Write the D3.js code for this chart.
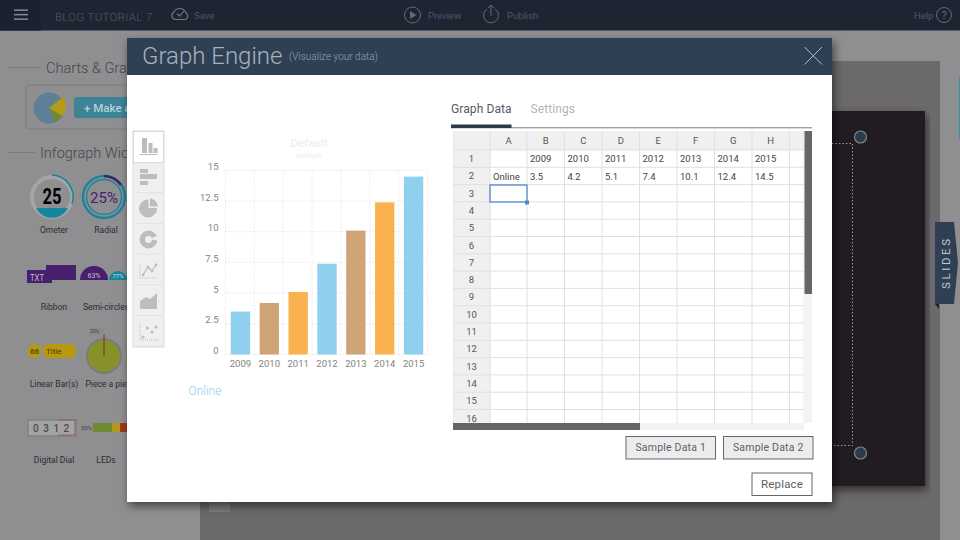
<!DOCTYPE html>
<html><head><meta charset="utf-8">
<script src="https://cdn.jsdelivr.net/npm/d3@7/dist/d3.min.js"></script>
<style>
html,body{margin:0;padding:0;background:#8f8e90;overflow:hidden}
svg{display:block}
text{font-family:Roboto,"Liberation Sans",sans-serif}
</style></head><body>
<svg id="c" width="960" height="540"></svg>
<script>
const categories=["2009","2010","2011","2012","2013","2014","2015"];
const seriesName="Online";
const values=[3.5,4.2,5.1,7.4,10.1,12.4,14.5];
const yTicks=[0,2.5,5,7.5,10,12.5,15];
const barColors=["#8fd0ef","#cfa478","#fab24f"];
const colLetters=["A","B","C","D","E","F","G","H"];
const rowNumbers=d3.range(1,17);
const colEdges=[490,527,564.5,602,639.5,677,714.5,752,789.5,804];
const widgetRows=[["Ometer","Radial"],["Ribbon","Semi-circles"],["Linear Bar(s)","Piece a pie"],["Digital Dial","LEDs"]];

const svg=d3.select("#c");
const rect=(p,x,y,w,h,fill,extra={})=>{const r=p.append("rect").attr("x",x).attr("y",y).attr("width",w).attr("height",h).attr("fill",fill);for(const k in extra)r.attr(k,extra[k]);return r;};
const text=(p,x,y,s,size,fill,extra={})=>{const t=p.append("text").attr("x",x).attr("y",y).text(s).attr("font-size",size).attr("fill",fill);for(const k in extra)t.attr(k,extra[k]);return t;};
const defs=svg.append("defs");
const f=defs.append("filter").attr("id","sh").attr("x","-5%").attr("y","-5%").attr("width","110%").attr("height","110%");
f.append("feDropShadow").attr("dx",2).attr("dy",4).attr("stdDeviation",5).attr("flood-color","#000").attr("flood-opacity",.55);

/* backdrop */
const bg=svg.append("g");
rect(bg,0,0,960,540,"#8f8e90");
rect(bg,200,61,740,479,"#6b696b");
rect(bg,825,111,100,375,"#201e21",{filter:"url(#sh)"});
bg.append("path").attr("d","M832 143.5H852.5V445.5H832").attr("fill","none").attr("stroke","#9c9c9c").attr("stroke-dasharray","1.5 2");
[[860.5,137],[860.5,453]].forEach(c=>bg.append("circle").attr("cx",c[0]).attr("cy",c[1]).attr("r",6).attr("fill","#2c3a4a").attr("stroke","#7d858c").attr("stroke-width",1.2));
rect(bg,209,495,21,17,"#7d7b7d");
/* slides tab */
bg.append("path").attr("d","M935 222H954L958 263L954 304H935Z").attr("fill","#2f4054");
bg.append("path").attr("d","M935 304H939V309Z").attr("fill","#222");
text(bg,0,0,"SLIDES",11.5,"#c0c6cc",{transform:"translate(950,289) rotate(-90)","letter-spacing":2.6});
rect(bg,959,77,1,62,"#2a93a8");

/* left panel */
const lp=svg.append("g");
const hdr=(t,x,y,lx1,lx2,s)=>{lp.append("line").attr("x1",lx1).attr("x2",lx2).attr("y1",y-5.5).attr("y2",y-5.5).attr("stroke","#7a7a7c");text(lp,x,y,t,s,"#47474a",{"font-weight":300});};
hdr("Charts & Graphs",46,73,9,40,14.5);
hdr("Infograph Widgets",40,158,9,35,14.5);
rect(lp,26,85,110,44,"none",{stroke:"#7d7d7f",rx:3});
lp.append("circle").attr("cx",49).attr("cy",108).attr("r",15.5).attr("fill","#5e7f96");
lp.append("path").attr("d","M49 108L63 97A15.5 15.5 0 0 1 62 116Z").attr("fill","#b49a15");
lp.append("path").attr("d","M49 108L62 116A15.5 15.5 0 0 1 55 122Z").attr("fill","#6f8a32");
rect(lp,74,97,60,21,"#3d8496",{rx:3});
text(lp,84,112,"+ Make a",11.5,"#b8d0d6",{"font-weight":500});
/* ometer */
lp.append("circle").attr("cx",52).attr("cy",197).attr("r",20).attr("fill","#8f8e90").attr("stroke","#a5a4a6").attr("stroke-width",4);
lp.append("path").attr("d","M36 208H68A18 18 0 0 1 36 208Z").attr("fill","#15869b");
lp.append("path").attr("d","M52 175A22 22 0 0 1 72 204").attr("fill","none").attr("stroke","#15869b").attr("stroke-width",1.5);
text(lp,52,204,"25",22,"#000",{"text-anchor":"middle","font-weight":700,textLength:19,lengthAdjust:"spacingAndGlyphs"});
/* radial */
lp.append("circle").attr("cx",104).attr("cy",197).attr("r",21).attr("fill","none").attr("stroke","#15869b").attr("stroke-width",2.4);
lp.append("circle").attr("cx",104).attr("cy",197).attr("r",17.5).attr("fill","none").attr("stroke","#15869b").attr("stroke-width",1.4);
lp.append("path").attr("d","M104 176A21 21 0 0 1 121 185").attr("fill","none").attr("stroke","#47206c").attr("stroke-width",2.6);
text(lp,104,203,"25%",15,"#47206c",{"text-anchor":"middle","font-weight":400});
/* ribbon and semi circles */
rect(lp,27,270,25,13,"#47206c");rect(lp,46,265,30,15,"#47206c");
text(lp,30,281,"TXT",9.5,"#c0b6cc",{textLength:14,lengthAdjust:"spacingAndGlyphs"});
lp.append("path").attr("d","M80 280A14 14 0 0 1 108 280Z").attr("fill","#47206c");
lp.append("path").attr("d","M109 280A9 9 0 0 1 127 280Z").attr("fill","#15869b");
text(lp,94,278,"63%",7,"#c8c0d0",{"text-anchor":"middle"});
text(lp,118,278,"77%",6,"#c8e0e5",{"text-anchor":"middle"});
/* linear bar */
lp.append("circle").attr("cx",34.5).attr("cy",351).attr("r",7).attr("fill","#b8980f");
text(lp,34.5,354,"68",8,"#4a4210",{"text-anchor":"middle","font-weight":500});
rect(lp,43,344,33,14,"#b8980f",{rx:6});
text(lp,46,354,"Title",8,"#4a4210",{"font-weight":400});
/* pie */
lp.append("circle").attr("cx",104).attr("cy",356).attr("r",17).attr("fill","#87912a").attr("stroke","#7b7b7d").attr("stroke-width",2);
lp.append("line").attr("x1",104).attr("x2",104).attr("y1",334).attr("y2",356).attr("stroke","#7a3020");
rect(lp,89,328,15,7,"#8a898b");
text(lp,90,333,"25%",5,"#444");
/* dial */
rect(lp,28,420,48,16,"#a3a2a4",{stroke:"#777"});
lp.append("path").attr("d","M58 420H75V435H58").attr("fill","none").attr("stroke","#9a4038").attr("stroke-dasharray","1.5 1");
["0","3","1","2"].forEach((d,i)=>text(lp,33+i*10.2,432,d,10,"#4a4a4c",{"font-weight":500}));
/* LEDs */
text(lp,81,430,"55%",6,"#444");
rect(lp,93,423,19,9,"#6f8a32");rect(lp,112,423,8,9,"#b09a22");rect(lp,120,423,7,9,"#a03a1c");
const labY=[233,310,387,463],labX=[54,106];
widgetRows.forEach((r,i)=>r.forEach((s,j)=>text(lp,labX[j],labY[i],s,8.5,"#2d2d30",{"text-anchor":"middle"})));

/* top bar */
const topBar=svg.append("g");
rect(topBar,0,0,960,30.5,"#1e2432");
rect(topBar,0,0,41,30.5,"#1b2130");
[10,14.5,19].forEach(y=>rect(topBar,14,y-.6,14,1.5,"#858b94"));
const tc="#4e5665";
text(topBar,55,21,"BLOG TUTORIAL 7",11.5,"#525a68",{"font-weight":300,"letter-spacing":.3});
topBar.append("path").attr("d","M176 19.5H185A3.5 3.5 0 0 0 186 13A6.5 6.5 0 0 0 174 12A4 4 0 0 0 176 19.5ZM177 13.5L179.5 16L184 11").attr("fill","none").attr("stroke","#727986").attr("stroke-width",1.1);
text(topBar,194,18.5,"Save",9.5,tc);
topBar.append("circle").attr("cx",412.5).attr("cy",15).attr("r",8).attr("fill","none").attr("stroke","#626a78");
topBar.append("path").attr("d","M410 11V19L416.5 15Z").attr("fill","#626a78");
text(topBar,428,19,"Preview",9.5,tc);
topBar.append("path").attr("d","M487 9A7.5 7.5 0 1 0 495 9M491 16V5M488 8L491 5L494 8").attr("fill","none").attr("stroke","#626a78");
text(topBar,507,19,"Publish",9.5,tc);
text(topBar,914,18.5,"Help",9.5,tc);
topBar.append("circle").attr("cx",944).attr("cy",15).attr("r",7.5).attr("fill","none").attr("stroke","#626a78");
text(topBar,944,19,"?",11,"#626a78",{"text-anchor":"middle"});

/* modal */
const m=svg.append("g");
rect(m,127,38,705,464,"#fff",{filter:"url(#sh)"});
rect(m,127,38,705,37,"#2f4054");
text(m,142,64,"Graph Engine",24,"#a8b2bd",{"font-weight":300});
text(m,289,60,"(Visualize your data)",10,"#98a3af",{"font-weight":300});
m.append("path").attr("d","M804.5 47L822 64.5M822 47L804.5 64.5").attr("stroke","#b6bec6").attr("stroke-width",1);

/* chart type rail */
const rail=m.append("g");
rect(rail,133,131,31,216,"#efeff0",{stroke:"#dcdcde"});
rect(rail,133.5,131.5,30,31,"#fff",{stroke:"#d8d8da"});
d3.range(1,7).forEach(i=>rail.append("line").attr("x1",134).attr("x2",163).attr("y1",162+i*30.7).attr("y2",162+i*30.7).attr("stroke","#e2e2e4"));
const gi="#bdbdbf";
rect(rail,142,138,5,15,gi);rect(rail,148.5,143,4,10,gi);rect(rail,153.5,148,4,5,gi);rect(rail,139.5,154,18,1,gi);
rect(rail,140,169,8,4,gi);rect(rail,140,174,17,5,gi);rect(rail,140,181,8,4,gi);
rail.append("path").attr("d","M148.5 199.5V208H157A9 9 0 1 1 148.5 199.5ZM150 198.5A9 9 0 0 1 158 206.5H150Z").attr("fill",gi);
rail.append("circle").attr("cx",148.5).attr("cy",239.5).attr("r",6.2).attr("fill","none").attr("stroke",gi).attr("stroke-width",5.5);
rail.append("path").attr("d","M149 239L160 235V241Z").attr("fill","#efeff0");
rail.append("path").attr("d","M140 264V278H158").attr("fill","none").attr("stroke",gi).attr("stroke-dasharray","1 1");
rail.append("path").attr("d","M143 275L148 267L152 271L156 265").attr("fill","none").attr("stroke",gi).attr("stroke-width",1.3);
[[143,275],[148,267],[152,271],[156,265]].forEach(p=>rail.append("circle").attr("cx",p[0]).attr("cy",p[1]).attr("r",1.4).attr("fill",gi));
rail.append("path").attr("d","M140 309V301L146 297L150 299L157 293V309Z").attr("fill",gi);
rail.append("path").attr("d","M140 323V340H158").attr("fill","none").attr("stroke",gi).attr("stroke-dasharray","1 1");
[[143,337],[147.5,328],[152,332],[156,327]].forEach(p=>rail.append("circle").attr("cx",p[0]).attr("cy",p[1]).attr("r",1.6).attr("fill",gi));

/* chart */
const x=d3.scaleBand().domain(categories).range([226,428]).paddingInner(.33).paddingOuter(.165);
const y=d3.scaleLinear().domain([0,15]).range([354.5,170.5]);
const ch=m.append("g");
const dotC="#dedee2",dotD="1 2";
ch.selectAll("line.h").data(yTicks).join("line").attr("class","h").attr("x1",225.5).attr("x2",427).attr("y1",d=>y(d)).attr("y2",d=>y(d)).attr("stroke",dotC).attr("stroke-dasharray",dotD);
const stepW=(428-226)/categories.length;
ch.selectAll("line.v").data(d3.range(0,8)).join("line").attr("class","v").attr("x1",d=>225.5+d*stepW).attr("x2",d=>225.5+d*stepW).attr("y1",170.5).attr("y2",354.5).attr("stroke",dotC).attr("stroke-dasharray",dotD);
ch.selectAll("rect.bar").data(values).join("rect").attr("class","bar").attr("x",(d,i)=>x(categories[i])).attr("width",x.bandwidth()).attr("y",d=>y(d)).attr("height",d=>y(0)-y(d)).attr("fill",(d,i)=>barColors[i%3]);
const ay=d3.axisLeft(y).tickValues(yTicks).tickSize(0).tickPadding(7).tickFormat(d=>String(d));
const gy=ch.append("g").attr("transform","translate(225.5,-4)").call(ay);
gy.select(".domain").remove();
gy.selectAll("text").attr("font-size",9.5).attr("fill","#828284").attr("font-family","Liberation Sans");
const ax=d3.axisBottom(x).tickSize(0).tickPadding(6);
const gx=ch.append("g").attr("transform","translate(0,354.5)").call(ax);
gx.select(".domain").remove();
gx.selectAll("text").attr("font-size",9.5).attr("fill","#828284").attr("font-family","Liberation Sans");
text(ch,309,147,"Default",11.5,"#f1f1f4",{"text-anchor":"middle","font-weight":700,"font-family":"Liberation Sans"});
text(ch,309,158,"Default",8,"#f3f3f5",{"text-anchor":"middle","font-weight":700,"font-family":"Liberation Sans"});
text(ch,188.5,395,seriesName,12,"#8fd0ef",{"font-weight":300});

/* tabs */
text(m,451,113,"Graph Data",12,"#555a60",{"letter-spacing":.1});
text(m,530.5,113,"Settings",12,"#b5b5b8",{"letter-spacing":.1});
rect(m,451,127,361,1.4,"#a3a3a6");
rect(m,451,124.5,60.5,3.5,"#2c3a4c");

/* spreadsheet */
const sh=m.append("g");
const colX=colEdges, rowY=d3.range(0,18).map(i=>150+i*17.3);
const top0=131,bot=423,left=453,right=804;
const clip=defs.append("clipPath").attr("id","sc");clip.append("rect").attr("x",left).attr("y",top0).attr("width",right-left).attr("height",bot-top0);
const grid=sh.append("g").attr("clip-path","url(#sc)");
rect(grid,left,top0,right-left,19,"#f0f0f1");
rect(grid,left,top0,37,bot-top0,"#f0f0f1");
const gc="#e0e0e3";
rowY.forEach(v=>grid.append("line").attr("x1",left).attr("x2",right).attr("y1",v).attr("y2",v).attr("stroke",gc));
colX.concat([left]).forEach(v=>grid.append("line").attr("x1",v).attr("x2",v).attr("y1",top0).attr("y2",bot).attr("stroke",gc));
const tf={"font-family":"Liberation Sans"};
colLetters.forEach((c,i)=>text(grid,(colX[i]+colX[i+1])/2,144,c,9.5,"#555",{"text-anchor":"middle",...tf}));
rowNumbers.forEach((r,i)=>text(grid,471.5,rowY[i]+12,r,9.5,"#555",{"text-anchor":"middle",...tf}));
categories.forEach((c,i)=>text(grid,colX[i+1]+3,162,c,9.5,"#444",tf));
text(grid,493,179.5,seriesName,9.5,"#444",tf);
values.forEach((v,i)=>text(grid,colX[i+1]+3,179.5,v,9.5,"#444",tf));
rect(sh,490,185,37,17,"none",{stroke:"#4f8ad0","stroke-width":1.3});
rect(sh,525,200.5,4,4,"#4f8ad0");
/* scrollbars */
rect(sh,453,423,351,7,"#f3f3f4");
rect(sh,453,423,187,7,"#666668");
rect(sh,804.5,131,7.5,292,"#f3f3f4");
rect(sh,804.5,131,7.5,163,"#666668");

/* buttons */
const btn=(x0,y0,w,h,s,fill,sz)=>{rect(m,x0+.5,y0+.5,w,h,fill,{stroke:"#66666a","stroke-width":1});text(m,x0+w/2+.5,y0+h/2+4,s,sz,"#5e5f63",{"text-anchor":"middle","letter-spacing":.2});};
btn(625.5,436,89.5,22.5,"Sample Data 1","#ececee",10.5);
btn(723,436,89.5,22.5,"Sample Data 2","#ececee",10.5);
btn(751.5,472.5,60,22.5,"Replace","#fff",11.5);
</script>
</body></html>
